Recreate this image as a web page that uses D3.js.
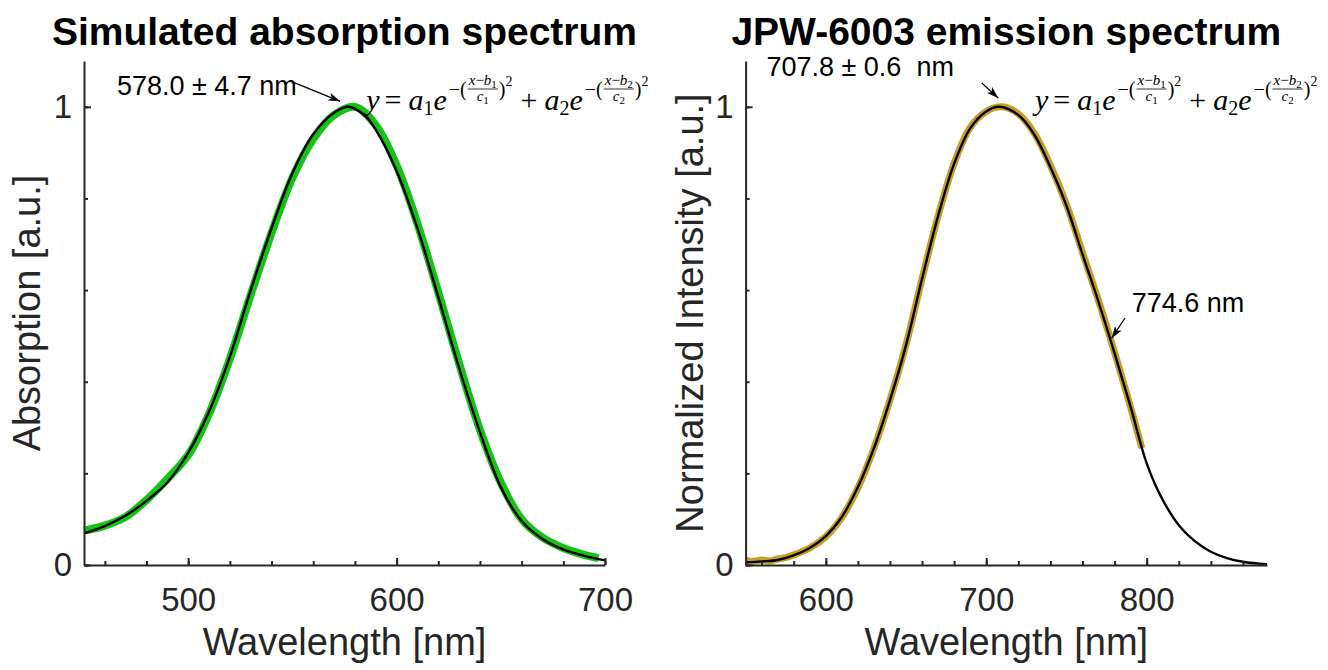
<!DOCTYPE html>
<html>
<head>
<meta charset="utf-8">
<script src="https://cdn.jsdelivr.net/npm/d3@7"></script>
<style>
  body { margin: 0; background: #fff; }
  svg { display: block; }
  text { font-family: "Liberation Sans", Arial, sans-serif; white-space: pre; }
</style>
</head>
<body>
<div id="chart"></div>
<script>
// ---- data ----
var absWl = [450,460,470,480,490,500,510,520,530,540,550,560,570,580,590,600,610,620,630,640,650,660,670,680,690,697];
var absMeasured = [0.075,0.086,0.105,0.142,0.188,0.240,0.330,0.450,0.590,0.725,0.845,0.930,0.982,1.000,0.960,0.872,0.745,0.595,0.440,0.295,0.180,0.100,0.060,0.037,0.022,0.015];
var absFitWl = [450,460,470,480,490,500,510,520,530,540,550,560,570,577,585,590,600,610,620,630,640,650,660,670,680,690,700];
var absFit = [0.069,0.085,0.108,0.140,0.180,0.245,0.335,0.455,0.600,0.735,0.855,0.940,0.987,1.000,0.980,0.950,0.860,0.735,0.585,0.430,0.290,0.170,0.096,0.057,0.034,0.020,0.010];

var emWl = [550,555,560,565,570,575,580,590,600,610,620,630,640,650,660,670,680,690,700,710,720,730,740,750,760,770,780,790,797];
var emMeasured = [0.010,0.008,0.011,0.009,0.013,0.016,0.022,0.037,0.062,0.104,0.168,0.255,0.360,0.481,0.625,0.762,0.877,0.955,0.990,1.000,0.985,0.942,0.872,0.787,0.682,0.577,0.464,0.344,0.255];
var emFitWl = [550,560,570,580,590,600,610,620,630,640,650,660,670,680,690,700,708,720,730,740,750,760,770,780,790,800,810,820,830,840,850,860,870,875];
var emFit = [0.006,0.008,0.011,0.021,0.037,0.063,0.105,0.170,0.255,0.360,0.480,0.625,0.762,0.876,0.953,0.990,1.000,0.982,0.939,0.868,0.784,0.678,0.574,0.462,0.345,0.222,0.142,0.087,0.052,0.029,0.015,0.007,0.003,0.002];

var absTicks = [460,480,500,520,540,560,580,600,620,640,660,680,700];
var absTickLabels = [500,600,700];
var emTicks = [560,580,600,620,640,660,680,700,720,740,760,780,800,820,840,860];
var emTickLabels = [600,700,800];
var yTicks = [0,0.2,0.4,0.6,0.8,1];
var yTickLabels = [0,1];

var width = 1328, height = 670,
    axisColor = "#262626",
    serif = "'Liberation Serif', 'DejaVu Serif', serif";

var svg = d3.select("#chart").append("svg")
    .attr("width", width)
    .attr("height", height);

svg.append("defs").append("marker")
    .attr("id", "arrow")
    .attr("viewBox", "0 0 12 8")
    .attr("refX", 12).attr("refY", 4)
    .attr("markerWidth", 12).attr("markerHeight", 8)
    .attr("markerUnits", "userSpaceOnUse")
    .attr("orient", "auto")
  .append("path")
    .attr("d", "M0,0 L12,4 L0,8 L3,4 Z")
    .attr("fill", "#000");

var y = d3.scaleLinear().domain([0, 1.1]).range([565, 61]);

// puts pieces of math text one after the other, returns the end x
function run(parent, pieces, x0, y0) {
  var cx = x0;
  pieces.forEach(function(p) {
    var t = parent.append("text")
        .attr("x", cx)
        .attr("y", y0 + (p.dy || 0))
        .style("font-family", serif)
        .style("font-size", p.size + "px")
        .style("font-style", p.it ? "italic" : "normal")
        .text(p.t);
    cx += t.node().getComputedTextLength() + (p.gap || 0);
  });
  return cx;
}

function fraction(parent, num, den, x0, y0) {
  var gn = parent.append("g"), gd = parent.append("g");
  var wn = run(gn, num, 0, y0 - 25);
  var wd = run(gd, den, 0, y0 - 9);
  var w = Math.max(wn, wd) + 2;
  gn.attr("transform", "translate(" + (x0 + (w - wn) / 2) + ",0)");
  gd.attr("transform", "translate(" + (x0 + (w - wd) / 2) + ",0)");
  parent.append("line")
      .attr("x1", x0).attr("x2", x0 + w)
      .attr("y1", y0 - 21).attr("y2", y0 - 21)
      .attr("stroke", "#000").attr("stroke-width", 0.8);
  return x0 + w;
}

function gaussTerm(parent, k, x0, y0) {
  var cx = run(parent, [
    {t: "a", size: 30, it: true},
    {t: k, size: 20, dy: 5},
    {t: "e", size: 30, it: true, gap: 2},
    {t: "\u2212(", size: 20, dy: -14}
  ], x0, y0);
  cx = fraction(parent,
    [{t: "x", size: 15, it: true}, {t: "\u2212", size: 15}, {t: "b", size: 15, it: true}, {t: k, size: 11, dy: 3}],
    [{t: "c", size: 15, it: true}, {t: k, size: 11, dy: 3}],
    cx + 1, y0);
  return run(parent, [
    {t: ")", size: 20, dy: -14},
    {t: "2", size: 14, dy: -24}
  ], cx + 1, y0);
}

function drawFormula(parent, x0, y0) {
  var g = parent.append("g").attr("class", "formula");
  var cx = run(g, [{t: "y", size: 30, it: true, gap: 5}, {t: "=", size: 30, gap: 7}], x0, y0);
  cx = gaussTerm(g, "1", cx, y0);
  cx = run(g, [{t: "+", size: 30, gap: 7}], cx + 8, y0);
  gaussTerm(g, "2", cx, y0);
}

function drawPanel(cfg) {
  var x = d3.scaleLinear().domain(cfg.xDomain).range(cfg.xRange);
  var g = svg.append("g");
  var line = d3.line()
      .x(function(d) { return x(d[0]); })
      .y(function(d) { return y(d[1]); })
      .curve(d3.curveCatmullRom);

  // measured data (thick) then fit (thin black)
  g.append("path")
      .datum(d3.zip(cfg.dataWl, cfg.data))
      .attr("d", line)
      .attr("fill", "none")
      .attr("stroke", cfg.color)
      .attr("stroke-width", cfg.dataWidth)
      .attr("stroke-linejoin", "round");

  g.append("path")
      .datum(d3.zip(cfg.fitWl, cfg.fit))
      .attr("d", line)
      .attr("fill", "none")
      .attr("stroke", "#000")
      .attr("stroke-width", 2.4);

  // axes
  g.append("g")
      .attr("transform", "translate(0," + y(0) + ")")
      .call(d3.axisBottom(x).tickValues(cfg.ticks).tickSizeInner(-4).tickSizeOuter(0).tickFormat(""));
  var xMajor = g.append("g")
      .attr("transform", "translate(0," + y(0) + ")")
      .call(d3.axisBottom(x).tickValues(cfg.labels).tickSizeInner(-7).tickSizeOuter(0).tickPadding(23).tickFormat(d3.format("d")));
  xMajor.select(".domain").remove();

  g.append("g")
      .attr("transform", "translate(" + cfg.xRange[0] + ",0)")
      .call(d3.axisLeft(y).tickValues(yTicks).tickSizeInner(-4).tickSizeOuter(0).tickFormat(""));
  var yMajor = g.append("g")
      .attr("transform", "translate(" + cfg.xRange[0] + ",0)")
      .call(d3.axisLeft(y).tickValues(yTickLabels).tickSizeInner(-7).tickSizeOuter(0).tickPadding(12).tickFormat(d3.format("d")));
  yMajor.select(".domain").remove();

  g.selectAll(".domain").attr("stroke", axisColor).attr("stroke-width", 2);
  g.selectAll(".tick line").attr("stroke", axisColor).attr("stroke-width", 2);
  g.selectAll(".tick text")
      .attr("fill", axisColor)
      .style("font-family", "'Liberation Sans', Arial, sans-serif")
      .style("font-size", "33px");

  var cxMid = (cfg.xRange[0] + cfg.xRange[1]) / 2;

  g.append("text")
      .attr("x", cxMid).attr("y", 45)
      .attr("text-anchor", "middle")
      .style("font-size", "39px").style("font-weight", "bold")
      .attr("fill", "#000")
      .text(cfg.title);

  g.append("text")
      .attr("x", cxMid).attr("y", 655)
      .attr("text-anchor", "middle")
      .style("font-size", "38px")
      .attr("fill", axisColor)
      .text("Wavelength [nm]");

  g.append("text")
      .attr("transform", "translate(" + cfg.ylabelX + "," + ((y(0) + y(1.1)) / 2) + ") rotate(-90)")
      .attr("text-anchor", "middle")
      .style("font-size", "38px")
      .attr("fill", axisColor)
      .text(cfg.ylabel);

  // annotations, anchored in data units
  cfg.notes.forEach(function(n) {
    g.append("text")
        .attr("x", x(n.text[0])).attr("y", y(n.text[1]))
        .style("font-size", "27px")
        .attr("fill", "#000")
        .text(n.label);
    g.append("line")
        .attr("x1", x(n.from[0])).attr("y1", y(n.from[1]))
        .attr("x2", x(n.to[0])).attr("y2", y(n.to[1]))
        .attr("stroke", "#000").attr("stroke-width", 1.2)
        .attr("marker-end", "url(#arrow)");
  });

  drawFormula(g, x(cfg.formulaAt[0]), y(cfg.formulaAt[1]));
}

drawPanel({
  xDomain: [450, 700], xRange: [84, 605],
  ticks: absTicks, labels: absTickLabels,
  dataWl: absWl, data: absMeasured, color: "#17c217", dataWidth: 8,
  fitWl: absFitWl, fit: absFit,
  title: "Simulated absorption spectrum",
  ylabel: "Absorption [a.u.]", ylabelX: 40,
  notes: [
    {label: "578.0 \u00b1 4.7 nm", text: [465.8, 1.026], from: [549.7, 1.055], to: [572.9, 1.012]}
  ],
  formulaAt: [585.4, 0.993]
});

drawPanel({
  xDomain: [550, 875], xRange: [745.6, 1267],
  ticks: emTicks, labels: emTickLabels,
  dataWl: emWl, data: emMeasured, color: "#c89e2a", dataWidth: 7,
  fitWl: emFitWl, fit: emFit,
  title: "JPW-6003 emission spectrum",
  ylabel: "Normalized Intensity [a.u.]", ylabelX: 703,
  notes: [
    {label: "707.8 \u00b1 0.6  nm", text: [563, 1.068], from: [697.2, 1.052], to: [707.5, 1.019]},
    {label: "774.6 nm", text: [790.7, 0.553], from: [786.5, 0.539], to: [778.2, 0.495]}
  ],
  formulaAt: [730.4, 0.993]
});
</script>
</body>
</html>
